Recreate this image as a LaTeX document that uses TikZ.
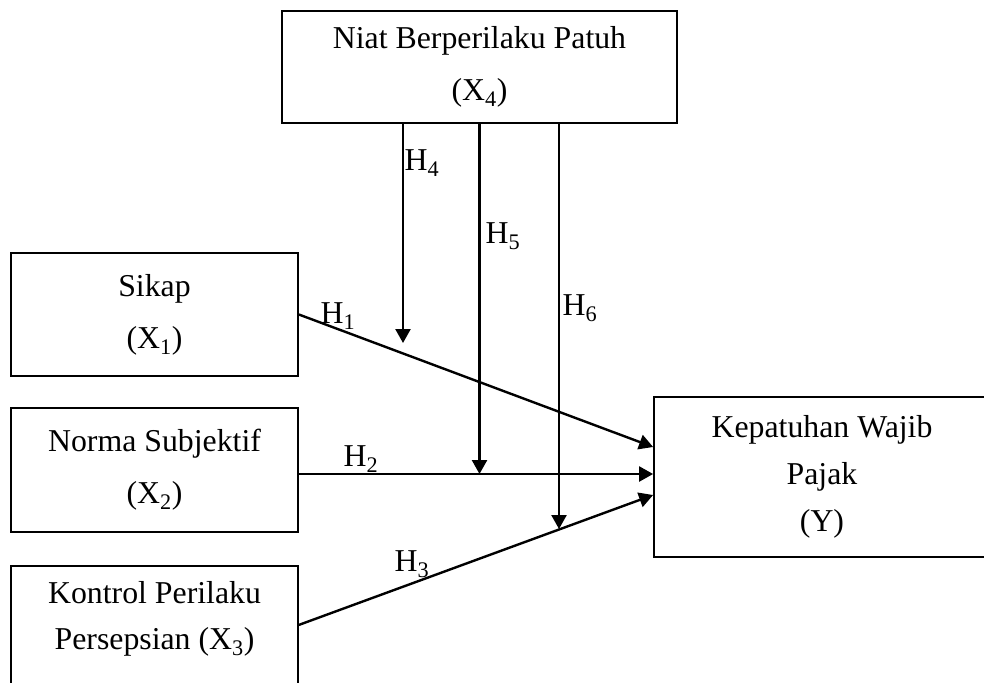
\documentclass[tikz,border=0pt]{standalone}
\usepackage{fontspec}
\setmainfont{Liberation Serif}
\usetikzlibrary{arrows.meta,calc}
\begin{document}
\begin{tikzpicture}[x=1pt,y=-1pt,
  box/.style={draw, line width=1.8pt, rectangle, inner sep=0pt, align=center,
    font=\fontsize{31.8}{52}\selectfont},
  lab/.style={inner sep=0pt, font=\fontsize{31.8}{36}\selectfont},
  arr/.style={line width=2.4pt, -{Triangle[length=14pt,width=15pt]}}]
\useasboundingbox (0,0) rectangle (984,682);
\clip (0,0) rectangle (984,682);

\node[box, minimum width=395pt, minimum height=112pt] (niat) at (479.5,67)
  {Niat Berperilaku Patuh\\(X\textsubscript{4})};
\node[box, minimum width=287pt, minimum height=123pt] (sikap) at (154.5,314.5)
  {Sikap\\(X\textsubscript{1})};
\node[box, minimum width=287pt, minimum height=124pt] (norma) at (154.5,470)
  {Norma Subjektif\\(X\textsubscript{2})};
\node[box, minimum width=287pt, minimum height=160pt, anchor=north] (kontrol) at (154.5,565) {};
\node[lab, align=center, font=\fontsize{31.8}{46}\selectfont] (kontroltext) at (154.5,619)
  {Kontrol Perilaku\\Persepsian (X\textsubscript{3})};
\node[box, minimum width=336pt, minimum height=160pt, font=\fontsize{31.8}{47}\selectfont] (kep) at (822,477)
  {Kepatuhan Wajib\\Pajak\\(Y)};

\coordinate (h4start) at ($(niat.south)+(-76.5,0)$);
\coordinate (h5start) at ($(niat.south)+(0,0)$);
\coordinate (h6start) at ($(niat.south)+(79.5,0)$);
\coordinate (h4end) at (403,343);
\coordinate (h5end) at (479.5,474);
\coordinate (h6end) at (559,529);

\draw[arr] (sikap.east) -- ($(kep.west)+(0,-30)$);
\draw[arr] ($(norma.east)+(0,4)$) -- ($(kep.west)+(0,-3)$);
\draw[arr] ($(kontrol.east)+(0,-21)$) -- ($(kep.west)+(0,18)$);
\draw[arr] (h4start) -- (h4end);
\draw[arr] (h5start) -- (h5end);
\draw[arr] (h6start) -- (h6end);

\node[lab] (h1) at (338,316) {H\textsubscript{1}};
\node[lab] (h2) at (361,459) {H\textsubscript{2}};
\node[lab] (h3) at (412,564) {H\textsubscript{3}};
\node[lab] (h4) at (422,163) {H\textsubscript{4}};
\node[lab] (h5) at (503,236) {H\textsubscript{5}};
\node[lab] (h6) at (580,308) {H\textsubscript{6}};
\end{tikzpicture}
\end{document}
